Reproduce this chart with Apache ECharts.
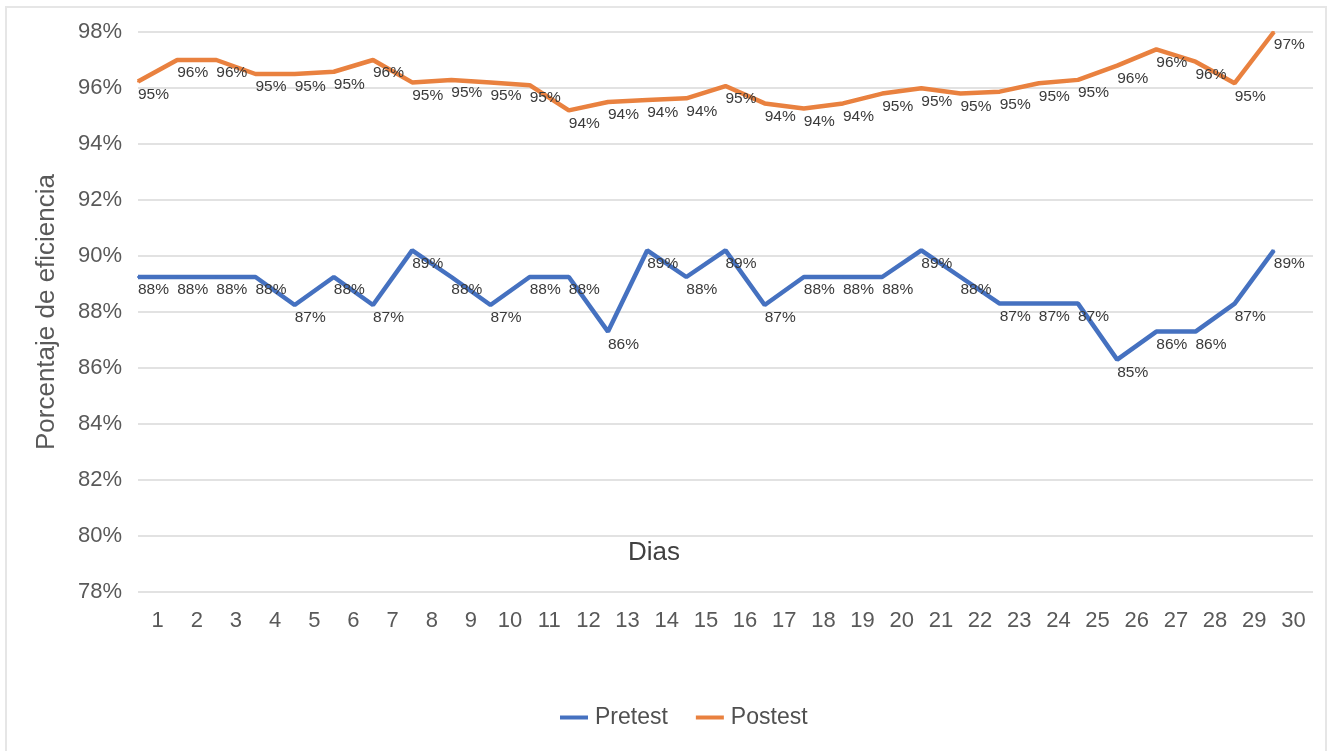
<!DOCTYPE html>
<html>
<head>
<meta charset="utf-8">
<script src="https://cdn.jsdelivr.net/npm/echarts@6/dist/echarts.min.js"></script>
<style>
html,body{margin:0;padding:0;background:#fff;}
#c{width:1337px;height:751px;}
</style>
</head>
<body>
<div id="c"></div>
<script>
// Categories (days)
const days = ['1','2','3','4','5','6','7','8','9','10','11','12','13','14','15','16','17','18','19','20','21','22','23','24','25','26','27','28','29','30'];
// Y-axis ticks
const yMin = 78, yMax = 98, yStep = 2;
// Plotted values (as drawn in the picture, %)
const pretest = [89.25,89.25,89.25,89.25,88.25,89.25,88.25,90.2,89.25,88.25,89.25,89.25,87.3,90.2,89.25,90.2,88.25,89.25,89.25,89.25,90.2,89.25,88.3,88.3,88.3,86.3,87.3,87.3,88.3,90.2];
const postest = [96.23,97.0,97.0,96.5,96.5,96.58,97.0,96.2,96.29,96.2,96.1,95.2,95.5,95.57,95.63,96.07,95.45,95.27,95.45,95.8,95.99,95.8,95.87,96.17,96.29,96.8,97.38,96.94,96.17,98.0];
// Data labels as printed in the picture
const pretestLabels = ['88%','88%','88%','88%','87%','88%','87%','89%','88%','87%','88%','88%','86%','89%','88%','89%','87%','88%','88%','88%','89%','88%','87%','87%','87%','85%','86%','86%','87%','89%'];
const postestLabels = ['95%','96%','96%','95%','95%','95%','96%','95%','95%','95%','95%','94%','94%','94%','94%','95%','94%','94%','94%','95%','95%','95%','95%','95%','95%','96%','96%','96%','95%','97%'];
const seriesNames = ['Pretest','Postest'];
const colors = ['#4571C0','#E9813F'];

const chart = echarts.init(document.getElementById('c'), null, {renderer:'canvas'});
const font = 'Liberation Sans, Arial, sans-serif';

function mkSeries(name, vals, labels, color){
  return {
    name: name,
    type: 'line',
    xAxisIndex: 1,
    data: vals.map((v,i)=>[i, v]),
    symbol: 'circle',
    symbolSize: 2,
    showSymbol: true,
    clip: false,
    lineStyle: {color: color, width: 4.5},
    itemStyle: {color: color},
    label: {
      show: true,
      position: [1, 14],
      align: 'left',
      verticalAlign: 'middle',
      fontFamily: font,
      fontSize: 15.5,
      color: '#3a3a3a',
      formatter: p => labels[p.dataIndex]
    },
    emphasis: {disabled: true},
    animation: false
  };
}

chart.setOption({
  animation: false,
  backgroundColor: '#ffffff',
  grid: {left: 138, right: 24, top: 32, bottom: 159, containLabel: false},
  xAxis: [
    {
      type: 'category',
      data: days,
      boundaryGap: true,
      axisLine: {show: false},
      axisTick: {show: false},
      axisLabel: {fontFamily: font, fontSize: 22, color: '#595959', margin: 18, interval: 0}
    },
    {
      type: 'value',
      min: 0, max: days.length,
      show: false
    }
  ],
  yAxis: {
    type: 'value',
    min: yMin, max: yMax, interval: yStep,
    name: 'Porcentaje de eficiencia',
    nameLocation: 'middle',
    nameGap: 78,
    nameTextStyle: {fontFamily: font, fontSize: 26, color: '#595959'},
    axisLine: {show: false},
    axisTick: {show: false},
    splitLine: {lineStyle: {color: '#e2e2e2', width: 1.8}},
    axisLabel: {fontFamily: font, fontSize: 22, color: '#595959', margin: 16, formatter: '{value}%'}
  },
  legend: {
    data: seriesNames,
    left: 560, top: 706,
    padding: 0,
    itemWidth: 28, itemHeight: 4, itemGap: 28,
    icon: 'rect',
    textStyle: {fontFamily: font, fontSize: 23, color: '#505050', padding: [0,0,0,2]}
  },
  graphic: [
    {type: 'rect', shape: {x: 6, y: 7, width: 1320, height: 760}, style: {fill: 'none', stroke: '#e6e6e6', lineWidth: 2}, silent: true},
    {type: 'text', left: 628, top: 540, style: {text: 'Dias', fontFamily: font, fontSize: 26, fill: '#404040'}}
  ],
  series: [
    mkSeries(seriesNames[0], pretest, pretestLabels, colors[0]),
    mkSeries(seriesNames[1], postest, postestLabels, colors[1])
  ]
});
</script>
</body>
</html>
